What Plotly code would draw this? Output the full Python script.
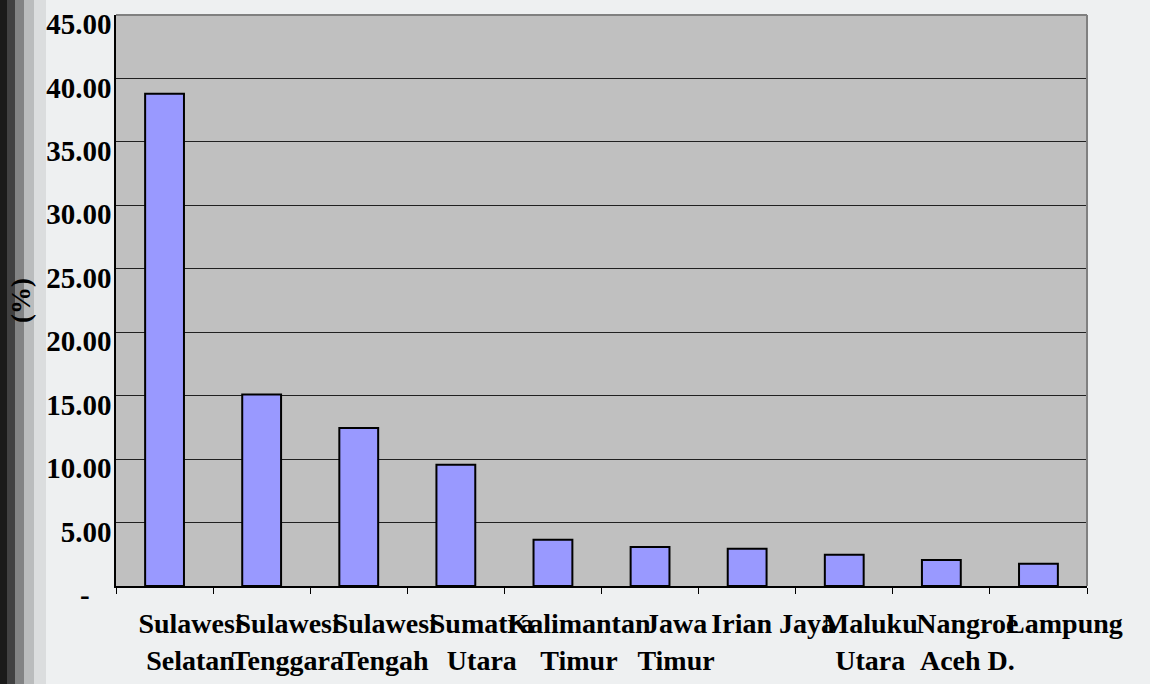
import plotly.graph_objects as go

categories = ["Sulawesi<br>Selatan", "Sulawesi<br>Tenggara", "Sulawesi<br>Tengah", "Sumatra<br>Utara",
              "Kalimantan<br>Timur", "Jawa<br>Timur", "Irian Jaya", "Maluku<br>Utara",
              "Nangroe<br>Aceh D.", "Lampung"]
values = [38.8, 15.1, 12.45, 9.55, 3.65, 3.07, 2.93, 2.47, 2.05, 1.75]
y_tickvals = [0, 5, 10, 15, 20, 25, 30, 35, 40, 45]
y_ticktext = ["-\u00a0\u00a0\u00a0", "5.00", "10.00", "15.00", "20.00", "25.00", "30.00", "35.00", "40.00", "45.00"]

FONT = "Liberation Serif, Times New Roman, serif"

fig = go.Figure()
fig.add_trace(go.Bar(
    x=categories, y=values,
    marker=dict(color="#9999FF", line=dict(color="black", width=2)),
))

PW, PH = 971, 571
shapes = []
# approximate background photo: dark blinds on the left edge
for x1, op in [(46, 0.08), (34, 0.15), (24, 0.3), (15, 0.5), (7, 0.6)]:
    shapes.append(dict(type="rect", xref="paper", yref="paper", x0=-116/PW, x1=(x1-116)/PW,
                       y0=-98/PH, y1=(684-98)/PH, fillcolor="black", opacity=op, line_width=0, layer="below"))
# plot frame top and right (gray)
shapes.append(dict(type="line", xref="paper", yref="paper", x0=0, x1=1, y0=1, y1=1,
                   line=dict(color="#808080", width=2)))
shapes.append(dict(type="line", xref="paper", yref="paper", x0=1, x1=1, y0=0, y1=1,
                   line=dict(color="#808080", width=2)))

fig.update_layout(
    width=1150, height=684,
    margin=dict(l=116, r=63, t=15, b=98),
    paper_bgcolor="#EEF0F1",
    plot_bgcolor="#C0C0C0",
    bargap=0.6,
    showlegend=False,
    font=dict(family=FONT, size=28, color="black", weight="bold"),
    shapes=shapes,
    xaxis=dict(
        type="category",
        automargin=False,
        tickangle=0,
        tickson="boundaries",
        ticks="outside", ticklen=6, tickcolor="black", tickwidth=1,
        showline=True, linecolor="black", linewidth=1.5,
        showgrid=False,
        ticklabelshift=26,
        ticklabelstandoff=12,
        tickfont=dict(family=FONT, size=28, color="black", weight="bold"),
    ),
    yaxis=dict(
        automargin=False,
        range=[0, 45],
        tickvals=y_tickvals, ticktext=y_ticktext,
        ticks="", showline=True, linecolor="black", linewidth=1.5,
        showgrid=True, gridcolor="#202020", gridwidth=1,
        zeroline=False,
        ticklabelshift=9,
        ticklabelstandoff=-3,
        tickfont=dict(family=FONT, size=29, color="black", weight="bold"),
        title=dict(text="(%)", font=dict(family=FONT, size=27, color="black", weight="bold"), standoff=8),
    ),
)

fig.write_html("out.html", post_script="document.body.style.margin='0';",
               config={"displayModeBar": False})
